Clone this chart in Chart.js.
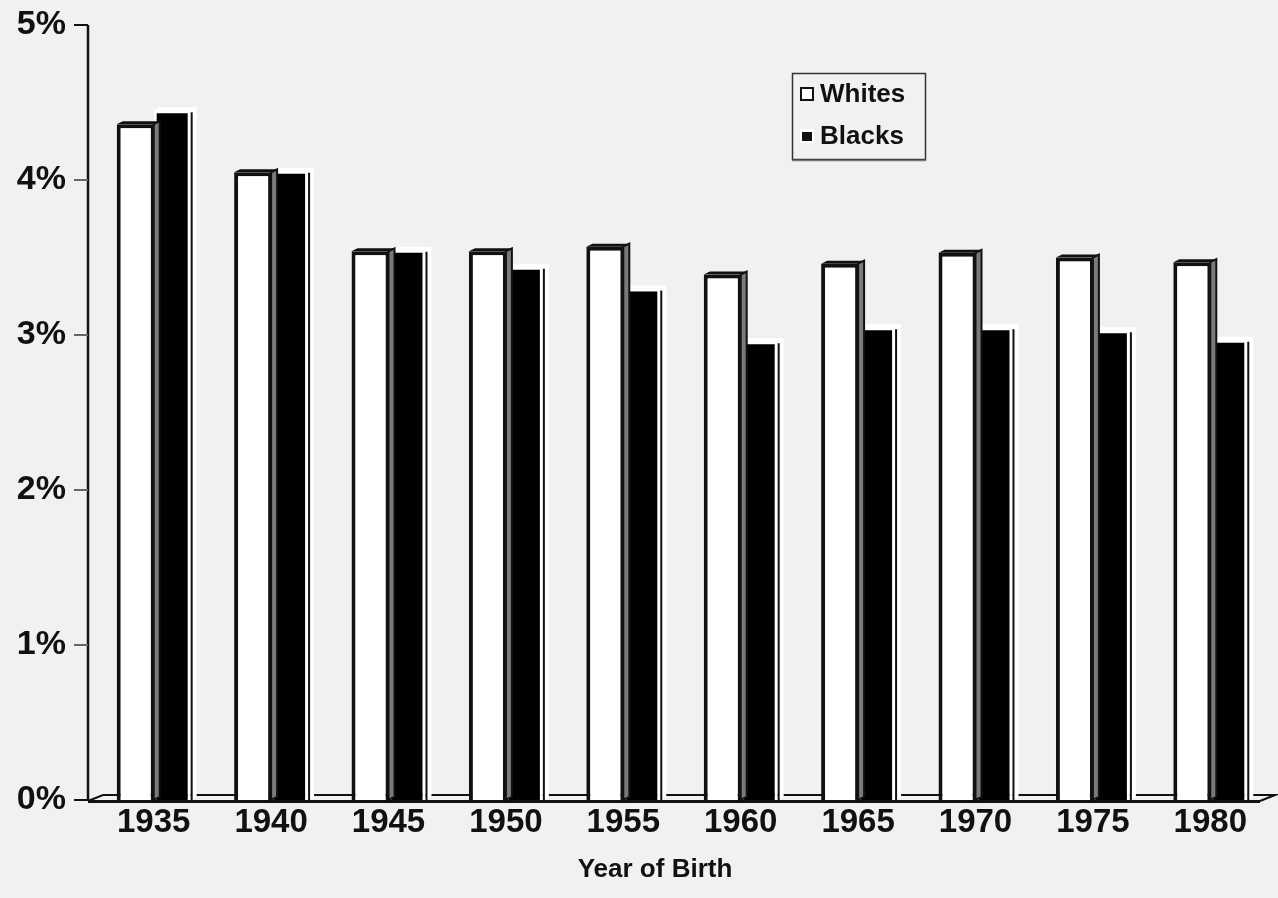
<!DOCTYPE html>
<html>
<head>
<meta charset="utf-8">
<script src="https://cdn.jsdelivr.net/npm/chart.js@4.4.1/dist/chart.umd.min.js"></script>
<style>
  html, body { margin: 0; padding: 0; background: #f0f1f3; }
  #wrap { width: 1278px; height: 898px; position: relative; }
</style>
</head>
<body>
<div id="wrap"><canvas id="chart" width="1278" height="898"></canvas></div>
<script>
// Cohort share by year of birth
const years = ['1935', '1940', '1945', '1950', '1955', '1960', '1965', '1970', '1975', '1980'];
const whites = [4.36, 4.05, 3.54, 3.54, 3.57, 3.39, 3.46, 3.53, 3.50, 3.47];
const blacks = [4.45, 4.06, 3.55, 3.44, 3.30, 2.96, 3.05, 3.05, 3.03, 2.97];
const seriesNames = ['Whites', 'Blacks'];
const yTickValues = [0, 1, 2, 3, 4, 5];
const axisTitle = 'Year of Birth';

const BG = '#f0f1f3';
const INK = '#111111';
const FONT = '"Liberation Sans", Arial, Helvetica, sans-serif';
const DX = 6, DY = 3; // bar depth offsets

// Floor, value axis, pseudo-3D bar faces, axis title and the boxed legend
const bar3d = {
  id: 'bar3d',
  beforeDatasetsDraw(chart) {
    const { ctx, chartArea: a, scales } = chart;
    const base = scales.y.getPixelForValue(0);
    const axisX = a.left - 7;
    ctx.save();
    // floor plane
    ctx.strokeStyle = INK;
    ctx.lineWidth = 2;
    ctx.beginPath();
    ctx.moveTo(axisX, base + 1);
    ctx.lineTo(axisX + 15, base - 5);
    ctx.lineTo(a.right + 6, base - 5);
    ctx.lineTo(a.right - 9, base + 1);
    ctx.stroke();
    ctx.lineWidth = 3;
    ctx.beginPath();
    ctx.moveTo(axisX, base + 1.5);
    ctx.lineTo(a.right - 9, base + 1.5);
    ctx.stroke();
    // value axis line and tick marks
    const top = scales.y.getPixelForValue(yTickValues[yTickValues.length - 1]);
    ctx.lineWidth = 2.5;
    ctx.beginPath();
    ctx.moveTo(axisX, top);
    ctx.lineTo(axisX, base + 1);
    ctx.stroke();
    yTickValues.forEach(v => {
      const py = scales.y.getPixelForValue(v);
      ctx.strokeStyle = v === yTickValues[yTickValues.length - 1] || v === 0 ? INK : '#666';
      ctx.lineWidth = 2;
      ctx.beginPath();
      ctx.moveTo(axisX - 14, py);
      ctx.lineTo(axisX, py);
      ctx.stroke();
    });
    ctx.restore();
  },
  afterDatasetDraw(chart, args) {
    const { ctx } = chart;
    const dark = args.index === 1;
    ctx.save();
    args.meta.data.forEach(bar => {
      const { x, y, base, width } = bar.getProps(['x', 'y', 'base', 'width'], true);
      const l = x - width / 2, r = x + width / 2;
      // top face
      ctx.beginPath();
      ctx.moveTo(l, y);
      ctx.lineTo(l + DX, y - DY);
      ctx.lineTo(r + DX, y - DY);
      ctx.lineTo(r, y);
      ctx.closePath();
      ctx.fillStyle = dark ? '#ffffff' : INK;
      ctx.fill();
      // side face
      ctx.beginPath();
      ctx.moveTo(r, y);
      ctx.lineTo(r + DX, y - DY);
      ctx.lineTo(r + DX, base - DY);
      ctx.lineTo(r, base);
      ctx.closePath();
      ctx.fillStyle = dark ? '#ffffff' : '#7a7a7a';
      ctx.fill();
      ctx.strokeStyle = INK;
      ctx.lineWidth = 2;
      if (!dark) {
        ctx.stroke();
      } else {
        ctx.beginPath();
        ctx.moveTo(r + 1, y + 2);
        ctx.lineTo(r + 1, base);
        ctx.stroke();
      }
    });
    ctx.restore();
  },
  afterDraw(chart) {
    const { ctx, chartArea: a } = chart;
    ctx.save();
    // category axis title
    ctx.fillStyle = INK;
    ctx.font = 'bold 26px ' + FONT;
    ctx.textAlign = 'center';
    ctx.textBaseline = 'middle';
    ctx.fillText(axisTitle, (a.left + a.right) / 2 - 27, 870);
    // legend box
    const bx = 792, by = 73, bw = 133, bh = 86;
    ctx.fillStyle = BG;
    ctx.fillRect(bx, by, bw, bh);
    ctx.strokeStyle = '#333';
    ctx.lineWidth = 1.5;
    ctx.strokeRect(bx + 0.5, by + 0.5, bw, bh);
    ctx.strokeStyle = '#777';
    ctx.beginPath();
    ctx.moveTo(bx, by + bh + 1.5);
    ctx.lineTo(bx + bw + 1, by + bh + 1.5);
    ctx.stroke();
    ctx.font = 'bold 26px ' + FONT;
    ctx.textAlign = 'left';
    chart.data.datasets.forEach((ds, i) => {
      const cy = by + 21 + i * 42;
      const sx = bx + 8, sy = cy - 7, s = 14;
      ctx.fillStyle = '#fff';
      ctx.fillRect(sx, sy, s, s);
      if (i === 0) {
        ctx.strokeStyle = INK;
        ctx.lineWidth = 2;
        ctx.strokeRect(sx + 1, sy + 1, s - 2, s - 2);
      } else {
        ctx.fillStyle = INK;
        ctx.fillRect(sx + 2, sy + 3, s - 4, s - 5);
      }
      ctx.fillStyle = INK;
      ctx.fillText(ds.label, bx + 28, cy + 1);
    });
    ctx.restore();
  }
};

new Chart(document.getElementById('chart'), {
  type: 'bar',
  data: {
    labels: years,
    datasets: [
      {
        label: seriesNames[0],
        data: whites,
        backgroundColor: '#ffffff',
        borderColor: INK,
        borderWidth: { top: 4, left: 4, right: 3, bottom: 0 },
        borderSkipped: false
      },
      {
        label: seriesNames[1],
        data: blacks,
        backgroundColor: '#000000',
        borderColor: '#ffffff',
        borderWidth: { top: 3, left: 3, right: 3, bottom: 0 },
        borderSkipped: false
      }
    ]
  },
  options: {
    responsive: false,
    animation: false,
    events: [],
    layout: { padding: { top: 25, right: 9, bottom: 0, left: 0 } },
    categoryPercentage: 0.63,
    barPercentage: 1.0,
    plugins: {
      legend: { display: false },
      tooltip: { enabled: false }
    },
    scales: {
      x: {
        afterFit(scale) { scale.height = 98; },
        grid: { display: false, drawTicks: false },
        border: { display: false },
        ticks: {
          color: INK,
          font: { family: FONT, size: 33, weight: 'bold' },
          padding: 3,
          maxRotation: 0,
          autoSkip: false
        }
      },
      y: {
        min: 0,
        max: 5,
        afterFit(scale) {
          scale.width = 95;
          scale.paddingTop = 0;
          scale.paddingBottom = 0;
        },
        afterBuildTicks(scale) { scale.ticks = yTickValues.map(v => ({ value: v })); },
        grid: { display: false, drawTicks: false },
        border: { display: false },
        ticks: {
          color: INK,
          font: { family: FONT, size: 34, weight: 'bold' },
          padding: 29,
          callback: v => v + '%'
        }
      }
    }
  },
  plugins: [bar3d]
});
</script>
</body>
</html>
